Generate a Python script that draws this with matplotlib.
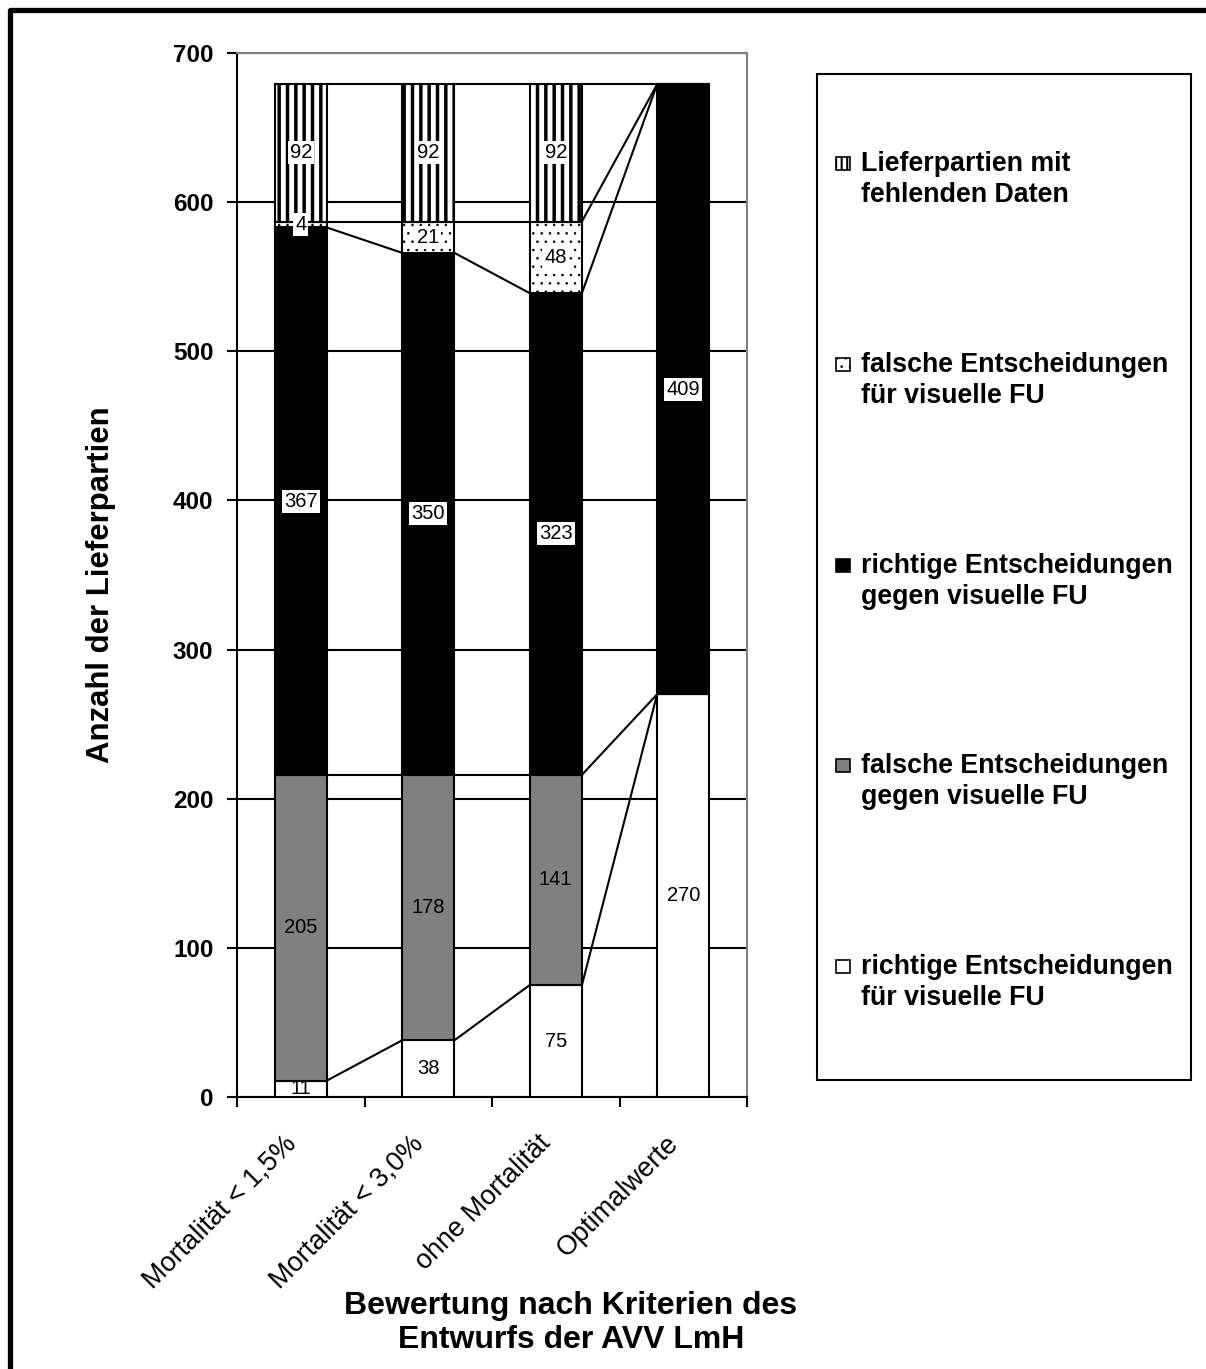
import matplotlib.pyplot as plt
import matplotlib.transforms as mtransforms
import numpy as np
from matplotlib.patches import Rectangle
from matplotlib.lines import Line2D

plt.rcParams['font.family'] = ['Liberation Sans', 'DejaVu Sans']
plt.rcParams['hatch.linewidth'] = 2.5

# categories and counts per decision class (bottom to top of the stack)
categories = ["Mortalität < 1,5%", "Mortalität < 3,0%", "ohne Mortalität", "Optimalwerte"]
richtig_fuer = [11, 38, 75, 270]
falsch_gegen = [205, 178, 141, 0]
richtig_gegen = [367, 350, 323, 409]
falsch_fuer = [4, 21, 48, 0]
fehlende_daten = [92, 92, 92, 0]

series = [richtig_fuer, falsch_gegen, richtig_gegen, falsch_fuer, fehlende_daten]
series_names = ["richtige Entscheidungen\nfür visuelle FU",
                "falsche Entscheidungen\ngegen visuelle FU",
                "richtige Entscheidungen\ngegen visuelle FU",
                "falsche Entscheidungen\nfür visuelle FU",
                "Lieferpartien mit\nfehlenden Daten"]
# facecolor, hatch, hatch line width, white box behind the value label
styles = [("white", None, 1.0, False),
          ("#808080", None, 1.0, False),
          ("black", None, 1.0, True),
          ("white", "..", 0.6, True),
          ("white", "||", 2.5, True)]
# finer hatches for the small legend keys
legend_hatch = {"||": "|||", "..": ".."}


def hatch_width(patch, lw):
    if hasattr(patch, "set_hatch_linewidth"):
        patch.set_hatch_linewidth(lw)


W, H = 1206, 1369
fig = plt.figure(figsize=(W / 100, H / 100), dpi=100)
ax = fig.add_axes([237 / W, 1 - 1097 / H, 510 / W, 1044 / H])

x = np.arange(len(categories))
width = 0.41
bottom = np.zeros(len(categories))
tops = []
for vals, (fc, hatch, hlw, boxed) in zip(series, styles):
    vals = np.array(vals, dtype=float)
    bars = ax.bar(x, vals, width, bottom=bottom, color=fc, edgecolor="black",
                  linewidth=1.5, hatch=hatch, zorder=3)
    for p in bars:
        hatch_width(p, hlw)
    for xi, b, v in zip(x, bottom, vals):
        if v == 0:
            continue
        kw = {}
        if boxed:
            kw["bbox"] = dict(facecolor="white", edgecolor="none", pad=1.5)
        ax.text(xi, b + v / 2, f"{int(v)}", ha="center", va="center",
                fontsize=14.5, zorder=5, clip_on=True, **kw)
    bottom = bottom + vals
    tops.append(bottom.copy())

# series lines between neighbouring bars
for level in tops:
    for i in range(len(x) - 1):
        ax.plot([x[i] + width / 2, x[i + 1] - width / 2], [level[i], level[i + 1]],
                color="black", lw=1.5, zorder=4)

ax.set_xlim(-0.5, len(categories) - 0.5)
ax.set_ylim(0, 700)
ax.set_yticks(np.arange(0, 701, 100))
ax.yaxis.grid(True, color="black", lw=1.5, zorder=0)
ax.set_axisbelow(True)
ax.tick_params(axis="y", direction="out", length=7, width=1.5, pad=10, labelsize=17.5)
for lab in ax.get_yticklabels():
    lab.set_fontweight("bold")

ax.set_xticks(x)
ax.set_xticklabels(categories, rotation=45, ha="right", rotation_mode="anchor",
                   fontsize=19.5)
ax.tick_params(axis="x", which="major", length=0, pad=24)
shift = mtransforms.ScaledTranslation(-18 / 100, 0, fig.dpi_scale_trans)
for lab in ax.get_xticklabels():
    lab.set_transform(lab.get_transform() + shift)
ax.set_xticks(np.arange(-0.5, len(categories)), minor=True)
ax.tick_params(axis="x", which="minor", direction="out", length=7, width=1.5)

for side in ["top", "right"]:
    ax.spines[side].set_color("#808080")
    ax.spines[side].set_linewidth(1.5)
for side in ["left", "bottom"]:
    ax.spines[side].set_linewidth(1.5)

fig.text(101 / W, 1 - 585 / H, "Anzahl der Lieferpartien", rotation=90,
         ha="center", va="center", fontsize=22.4, fontweight="bold")
fig.text(571 / W, 1 - 1323 / H, "Bewertung nach Kriterien des\nEntwurfs der AVV LmH",
         ha="center", va="center", fontsize=23, fontweight="bold", linespacing=1.2)

# legend box drawn by hand, one entry every ~200 px
fig.patches.append(Rectangle((817 / W, 1 - 1080 / H), 374 / W, 1006 / H,
                             transform=fig.transFigure, fill=False, lw=1.5,
                             edgecolor="black"))
entry_y = [170, 371, 572, 772, 973]
for i, (name, (fc, hatch, hlw, _)) in enumerate(zip(series_names[::-1], styles[::-1])):
    yb = entry_y[i]
    box = Rectangle((836 / W, 1 - yb / H), 14 / W, 13 / H,
                    transform=fig.transFigure, facecolor=fc,
                    edgecolor="black", lw=1.2, hatch=legend_hatch.get(hatch))
    hatch_width(box, min(hlw, 1.5))
    fig.patches.append(box)
    # va="baseline" anchors the last line, so drop by one line height
    fig.text(861 / W, 1 - (yb + 32) / H, name, ha="left", va="baseline",
             fontsize=19.3, fontweight="bold", linespacing=1.25)

# outer frame (top and left edge)
fig.lines.append(Line2D([9.5 / W, 9.5 / W, 1], [0, 1 - 9.5 / H, 1 - 9.5 / H],
                        transform=fig.transFigure, color="black", lw=3.8))

fig.savefig("out.png", dpi=100)
